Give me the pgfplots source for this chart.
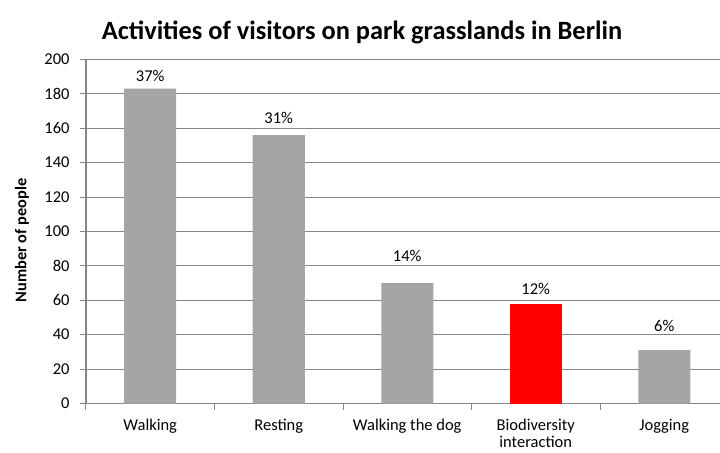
\documentclass[border=0pt]{standalone}
\usepackage{fontspec}
\setmainfont{Carlito}
\usepackage{pgfplots}
\pgfplotsset{compat=1.18}
\definecolor{bargray}{HTML}{A5A5A5}
\definecolor{axgray}{HTML}{868686}
\definecolor{barred}{HTML}{FF0000}
\newcommand{\lbl}{\fontsize{16.5bp}{20bp}\selectfont}
\pgfplotstableread{
x y off lab
0 183 7 37\%
1 156 12 31\%
2 70 22 14\%
4 31 19 6\%
}\graydata
\pgfplotstableread{
x y off lab
3 58 9 12\%
}\reddata
\begin{document}
\begin{tikzpicture}
\begin{axis}[
  scale only axis, width=642.5bp, height=344bp,
  xmin=-0.5, xmax=4.5, ymin=0, ymax=200,
  axis x line*=bottom, axis y line*=left,
  axis line style={axgray, line width=1.5bp},
  tick align=outside,
  ytick={0,20,...,200},
  xtick={0,1,2,3,4},
  xticklabels={Walking,Resting,Walking the dog,{\begin{tabular}[t]{@{}c@{}}Biodiversity\\[-2.5bp]interaction\end{tabular}},Jogging},
  minor xtick={-0.5,0.5,1.5,2.5,3.5,4.5},
  major tick length=6bp, minor tick length=6bp,
  major x tick style={draw=none},
  tick style={axgray, line width=1bp},
  ymajorgrids, grid style={axgray, line width=1bp},
  /pgf/number format/assume math mode=true,
  ticklabel style={font=\lbl, text=black},
  xticklabel style={anchor=base, yshift=-20.5bp},
  yticklabel style={anchor=east, xshift=-7bp},
  ylabel={Number of people},
  every axis y label/.style={at={(rel axis cs:0,0.5)}, xshift=-64bp, yshift=-9bp, rotate=90, anchor=center, font=\bfseries\fontsize{16.3bp}{19bp}\selectfont},
  ybar, bar width=52bp,
  nodes near coords, point meta=explicit symbolic,
  clip=false,
]
\addplot[fill=bargray, draw=none, bar shift=0pt,
  visualization depends on={\thisrow{off} \as \myoff},
  nodes near coords style={font=\lbl, anchor=base, yshift=\myoff bp}]
  table[x=x, y=y, meta=lab] {\graydata};
\addplot[fill=barred, draw=none, bar shift=0pt,
  visualization depends on={\thisrow{off} \as \myoff},
  nodes near coords style={font=\lbl, anchor=base, yshift=\myoff bp}]
  table[x=x, y=y, meta=lab] {\reddata};
\coordinate (bl) at (rel axis cs:0,0);
\end{axis}
\node[anchor=base, font=\bfseries\fontsize{26.4bp}{30bp}\selectfont] at ([shift={(276bp,363.5bp)}]bl) {Activities of visitors on park grasslands in Berlin};
\pgfresetboundingbox
\path[use as bounding box] ([shift={(-86bp,-49.5bp)}]bl) rectangle ++(720bp,453bp);
\end{tikzpicture}
\end{document}
